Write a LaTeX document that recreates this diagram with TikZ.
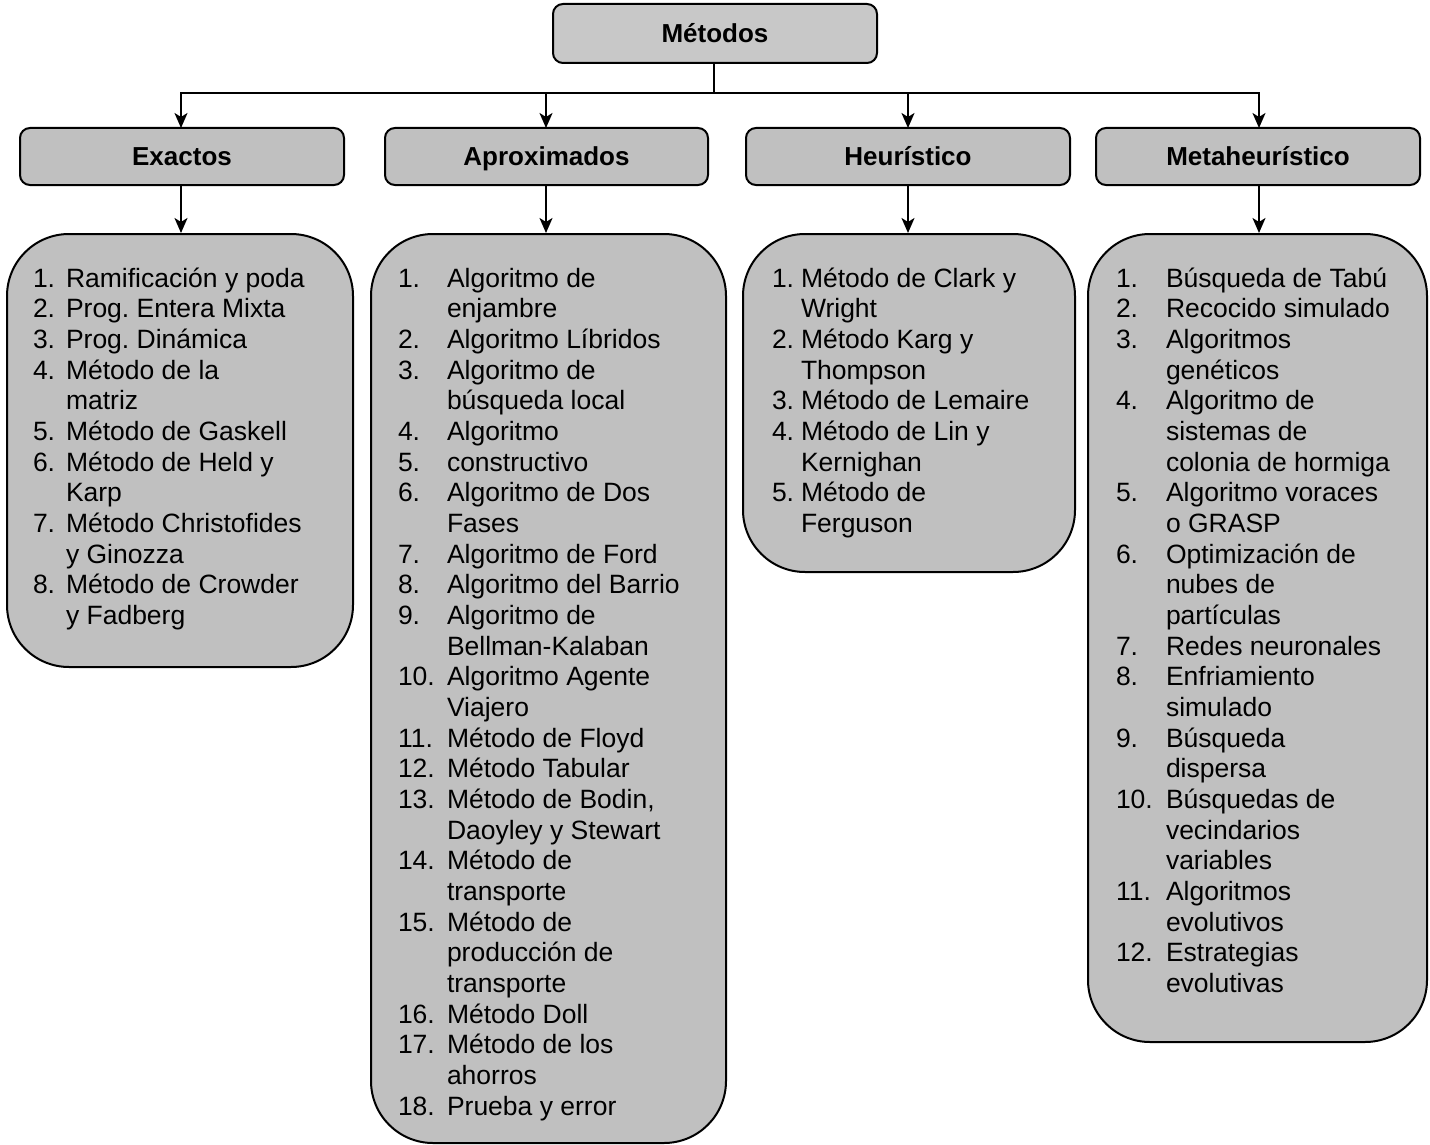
\documentclass[tikz,border=0pt]{standalone}
\usepackage{fontspec}
\setmainfont{Liberation Sans}
\usetikzlibrary{arrows.meta}
\definecolor{boxfill}{HTML}{C0C0C0}
\definecolor{topfill}{HTML}{C8C8C8}
\frenchspacing
\begin{document}
\begin{tikzpicture}[x=1pt,y=-1pt,
  line width=2pt,
  headbox/.style={draw, fill=boxfill, rounded corners=10pt, inner sep=0pt,
    minimum height=57pt, font=\fontsize{26pt}{30pt}\selectfont\bfseries,
    text height=18.7pt, text depth=0pt},
  listbox/.style={draw, fill=boxfill, rounded corners=62pt, inner sep=0pt},
  lst/.style={inner sep=0pt, anchor=base west, font=\fontsize{26.5pt}{30.7pt}\selectfont},
  arr/.style={-{Stealth[length=15pt,width=13pt,inset=4pt]}}
]
\fill[white] (0,0) rectangle (1430,1145);
\useasboundingbox (0,0) rectangle (1430,1145);

% top level
\node[headbox, fill=topfill, minimum width=324pt, minimum height=59pt] (top) at (715,33.5) {Métodos};

% second level
\node[headbox, minimum width=324pt] (ex) at (182,156.5) {Exactos};
\node[headbox, minimum width=323pt] (ap) at (546.5,156.5) {Aproximados};
\node[headbox, minimum width=324pt] (he) at (908,156.5) {Heurístico};
\node[headbox, minimum width=324pt] (me) at (1258,156.5) {Metaheurístico};

% list boxes
\node[listbox, minimum width=346pt, minimum height=433pt] (lex) at (180,450.5) {};
\node[listbox, minimum width=355pt, minimum height=909pt] (lap) at (548.5,688.5) {};
\node[listbox, minimum width=332pt, minimum height=338pt] (lhe) at (909,403) {};
\node[listbox, minimum width=339pt, minimum height=808pt] (lme) at (1257.5,638) {};

% connectors
\coordinate (bus) at (714,93);
\draw (top.south -| bus) -- (bus);
\draw[arr] (bus) -| (181,128) coordinate (exin);
\draw[arr] (bus) -| (546,128) coordinate (apin);
\draw[arr] (bus) -| (908,128) coordinate (hein);
\draw[arr] (bus) -| (1259,128) coordinate (mein);
\draw[arr] (ex.south -| exin) -- (lex.north -| exin);
\draw[arr] (ap.south -| apin) -- (lap.north -| apin);
\draw[arr] (he.south -| hein) -- (lhe.north -| hein);
\draw[arr] (me.south -| mein) -- (lme.north -| mein);

% list contents
\foreach \n/\t [count=\i from 0] in {
  1./Ramificación y poda, 2./Prog. Entera Mixta, 3./Prog. Dinámica,
  4./Método de la, /matriz, 5./Método de Gaskell, 6./Método de Held y, /Karp,
  7./Método Christofides, /y Ginozza, 8./Método de Crowder, /y Fadberg}{
  \node[lst] (exn\i) at (32,287+30.67*\i) {\n};
  \node[lst] (ext\i) at (65,287+30.67*\i) {\t};
}
\foreach \n/\t [count=\i from 0] in {
  1./Algoritmo de, /enjambre, 2./Algoritmo Líbridos, 3./Algoritmo de,
  /búsqueda local, 4./Algoritmo, 5./constructivo, 6./Algoritmo de Dos, /Fases,
  7./Algoritmo de Ford, 8./Algoritmo del Barrio, 9./Algoritmo de,
  /Bellman-Kalaban, 10./Algoritmo Agente, /Viajero, 11./Método de Floyd,
  12./Método Tabular, 13./{Método de Bodin,}, /Daoyley y Stewart,
  14./Método de, /transporte, 15./Método de, /producción de, /transporte,
  16./Método Doll, 17./Método de los, /ahorros, 18./Prueba y error}{
  \node[lst] (apn\i) at (397,287+30.67*\i) {\n};
  \node[lst] (apt\i) at (446,287+30.67*\i) {\t};
}
\foreach \n/\t [count=\i from 0] in {
  1./Método de Clark y, /Wright, 2./Método Karg y, /Thompson,
  3./Método de Lemaire, 4./Método de Lin y, /Kernighan, 5./Método de, /Ferguson}{
  \node[lst] (hen\i) at (771,287+30.67*\i) {\n};
  \node[lst] (het\i) at (800,287+30.67*\i) {\t};
}
\foreach \n/\t [count=\i from 0] in {
  1./Búsqueda de Tabú, 2./Recocido simulado, 3./Algoritmos, /genéticos,
  4./Algoritmo de, /sistemas de, /colonia de hormiga, 5./Algoritmo voraces,
  /o GRASP, 6./Optimización de, /nubes de, /partículas, 7./Redes neuronales,
  8./Enfriamiento, /simulado, 9./Búsqueda, /dispersa, 10./Búsquedas de,
  /vecindarios, /variables, 11./Algoritmos, /evolutivos, 12./Estrategias,
  /evolutivas}{
  \node[lst] (men\i) at (1115,287+30.67*\i) {\n};
  \node[lst] (met\i) at (1165,287+30.67*\i) {\t};
}
\end{tikzpicture}
\end{document}
